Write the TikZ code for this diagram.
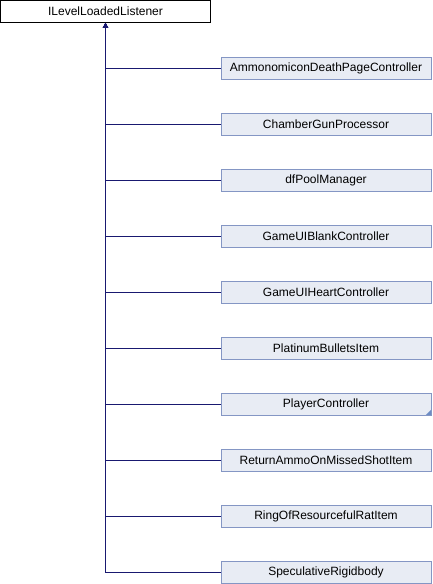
\documentclass[tikz,border=0pt]{standalone}
\usepackage{fontspec}
\setmainfont{Liberation Sans}
\usetikzlibrary{arrows.meta, positioning}
\definecolor{edgeblue}{HTML}{191970}
\definecolor{classfill}{HTML}{E8ECF4}
\definecolor{classdraw}{HTML}{8496C4}
\definecolor{moretri}{HTML}{6C8CC4}

\begin{document}
\begin{tikzpicture}[
    x=1pt, y=1pt,
    base/.style={draw=black, fill=white, line width=0.9pt, minimum width=210pt, minimum height=22pt, inner sep=0pt, font=\fontsize{12}{14}\selectfont},
    derived/.style={draw=classdraw, fill=classfill, line width=0.9pt, minimum width=210pt, minimum height=22pt, inner sep=0pt, font=\fontsize{12}{14}\selectfont},
    inherit/.style={{Triangle[length=5pt, width=5pt]}-, line width=0.9pt, color=edgeblue},
]
    \useasboundingbox (0,0) rectangle (432,-584);

    % Interface
    \node[base] (listener) at (105.5, -11.5) {ILevelLoadedListener};

    % Implementing classes
    \node[derived] (ammo)     at (326, -68)  {AmmonomiconDeathPageController};
    \node[derived] (chamber)  at (326, -124) {ChamberGunProcessor};
    \node[derived] (pool)     at (326, -180) {dfPoolManager};
    \node[derived] (blank)    at (326, -236) {GameUIBlankController};
    \node[derived] (heart)    at (326, -292) {GameUIHeartController};
    \node[derived] (platinum) at (326, -348) {PlatinumBulletsItem};
    \node[derived] (player)   at (326, -404) {PlayerController};
    \node[derived] (returnammo) at (326, -460) {ReturnAmmoOnMissedShotItem};
    \node[derived] (ratitem)  at (326, -516) {RingOfResourcefulRatItem};
    \node[derived] (rigid)    at (326, -572) {SpeculativeRigidbody};

    % More subclasses marker
    \fill[moretri] (player.south east) ++(-0.5,0.5) -- ++(-5,0) -- ++(5,5) -- cycle;

    % Inheritance
    \draw[inherit] (listener.south) |- (ammo.west);
    \draw[inherit] (listener.south) |- (chamber.west);
    \draw[inherit] (listener.south) |- (pool.west);
    \draw[inherit] (listener.south) |- (blank.west);
    \draw[inherit] (listener.south) |- (heart.west);
    \draw[inherit] (listener.south) |- (platinum.west);
    \draw[inherit] (listener.south) |- (player.west);
    \draw[inherit] (listener.south) |- (returnammo.west);
    \draw[inherit] (listener.south) |- (ratitem.west);
    \draw[inherit] (listener.south) |- (rigid.west);

\end{tikzpicture}
\end{document}
